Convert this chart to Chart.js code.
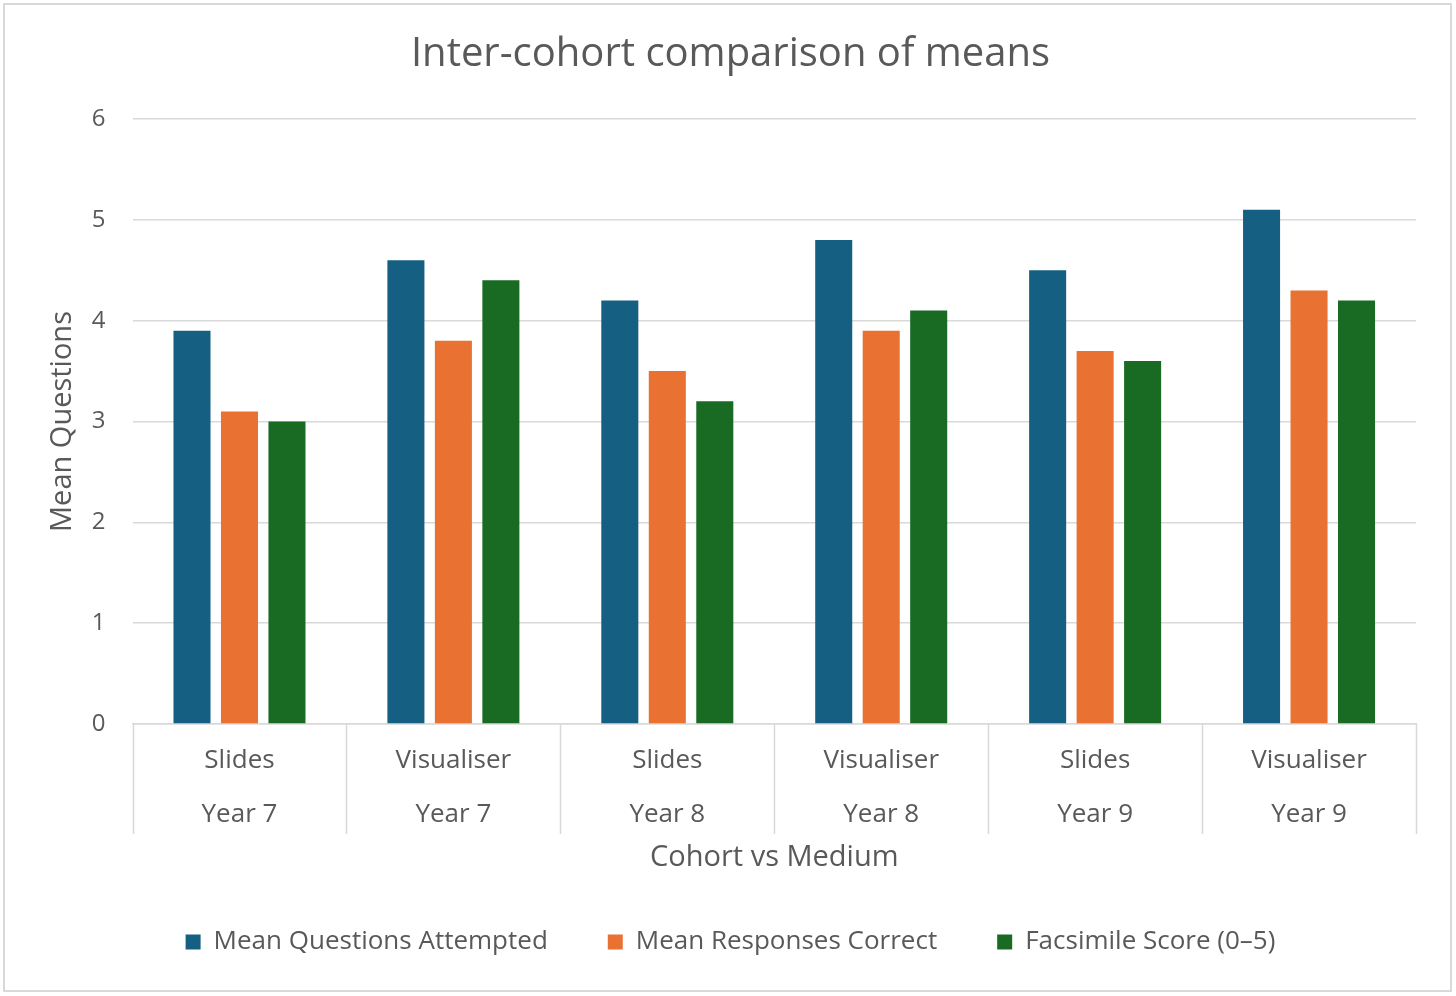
<!DOCTYPE html>
<html>
<head>
<meta charset="utf-8">
<script src="https://cdn.jsdelivr.net/npm/chart.js@4"></script>
<style>
  body { margin: 0; background: #fff; }
  #frame { position: absolute; left: 3px; top: 3px; width: 1445px; height: 985px; border: 2px solid #d9d9d9; }
  #wrap { position: absolute; left: 0; top: 0; width: 1456px; height: 996px; }
</style>
</head>
<body>
<div id="frame"></div>
<div id="wrap"><canvas id="myChart"></canvas></div>
<script>
const media = ['Slides', 'Visualiser', 'Slides', 'Visualiser', 'Slides', 'Visualiser'];
const cohorts = ['Year 7', 'Year 7', 'Year 8', 'Year 8', 'Year 9', 'Year 9'];
const attempted = [3.9, 4.6, 4.2, 4.8, 4.5, 5.1];
const correct = [3.1, 3.8, 3.5, 3.9, 3.7, 4.3];
const facsimile = [3.0, 4.4, 3.2, 4.1, 3.6, 4.2];
const yTicks = [0, 1, 2, 3, 4, 5, 6];

const labels = media.map((m, i) => [m, cohorts[i]]);
const textColor = '#595959';
const lineColor = '#d9d9d9';
const fontFamily = "'Open Sans', sans-serif";

// vertical separators between the categories, below the axis (Excel multi-level look)
const separators = {
    id: 'separators',
    afterDraw(chart) {
        const x = chart.scales.x;
        const c = chart.ctx;
        const n = x.ticks.length;
        c.save();
        c.strokeStyle = lineColor;
        c.lineWidth = 1.5;
        for (let i = 0; i <= n; i++) {
            const px = Math.round(x.left + i * x.width / n) + 0.5;
            c.beginPath();
            c.moveTo(px, x.top);
            c.lineTo(px, x.top + 110);
            c.stroke();
        }
        c.restore();
    }
};

var ctx = document.getElementById('myChart').getContext('2d');
var myChart = new Chart(ctx, {
    type: 'bar',
    data: {
        labels: labels,
        datasets: [
            { label: 'Mean Questions Attempted', data: attempted, backgroundColor: '#156082' },
            { label: 'Mean Responses Correct', data: correct, backgroundColor: '#e97132' },
            { label: 'Facsimile Score (0\u20135)', data: facsimile, backgroundColor: '#196b24' }
        ]
    },
    options: {
        responsive: true,
        maintainAspectRatio: false,
        animation: false,
        datasets: {
            bar: { categoryPercentage: 0.666, barPercentage: 0.78 }
        },
        layout: { padding: { left: 45, right: 40, top: 0, bottom: 31 } },
        scales: {
            x: {
                grid: { display: false, drawTicks: false },
                border: { display: true, color: lineColor, width: 1.5 },
                ticks: {
                    color: textColor,
                    padding: 10,
                    maxRotation: 0,
                    font: { family: fontFamily, size: 26, lineHeight: '54px' }
                },
                title: {
                    display: true,
                    text: 'Cohort vs Medium',
                    color: textColor,
                    padding: { top: -8.5, bottom: -3.5 },
                    font: { family: fontFamily, size: 29, lineHeight: 1 }
                }
            },
            y: {
                min: 0,
                max: 6,
                afterBuildTicks: (axis) => { axis.ticks = yTicks.map(v => ({ value: v })); },
                grid: { color: lineColor, lineWidth: 1.5, drawTicks: false },
                border: { display: false },
                ticks: {
                    color: textColor,
                    padding: 27,
                    font: { family: fontFamily, size: 24 }
                },
                title: {
                    display: true,
                    text: 'Mean Questions',
                    color: textColor,
                    padding: { top: 0, bottom: -15 },
                    font: { family: fontFamily, size: 29, lineHeight: 1.2 }
                }
            }
        },
        plugins: {
            title: {
                display: true,
                text: 'Inter-cohort comparison of means',
                color: textColor,
                padding: { top: 31, bottom: 40 },
                font: { family: fontFamily, size: 40, weight: 'normal', lineHeight: 1.2 }
            },
            legend: {
                position: 'bottom',
                labels: {
                    color: textColor,
                    boxWidth: 15,
                    boxHeight: 15,
                    padding: 60,
                    font: { family: fontFamily, size: 26 }
                }
            },
            tooltip: { enabled: false }
        }
    },
    plugins: [separators]
});
</script>
</body>
</html>
